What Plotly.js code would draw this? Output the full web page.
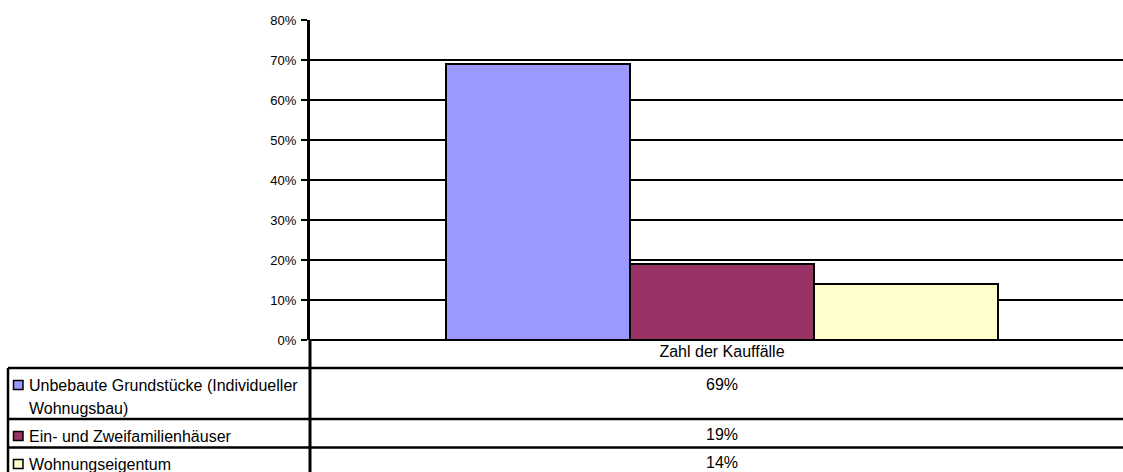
<!DOCTYPE html>
<html>
<head>
<meta charset="utf-8">
<script src="https://cdn.plot.ly/plotly-3.0.1.min.js"></script>
<style>
  html, body { margin: 0; padding: 0; background: #fff; }
  #chart { width: 1123px; height: 472px; }
</style>
</head>
<body>
<div id="chart"></div>
<script>
// Data
const category = 'Zahl der Kauffälle';
const seriesNames = ['Unbebaute Grundstücke (Individueller<br>Wohnugsbau)', 'Ein- und Zweifamilienhäuser', 'Wohnungseigentum'];
const seriesValues = [69, 19, 14];
const seriesColors = ['#9999FF', '#993366', '#FFFFCC'];
const yTicks = [0, 10, 20, 30, 40, 50, 60, 70, 80];

// pixel helpers for the data table under the plot (plot area: x 310..1123, y 20..340)
const W = 1123, H = 472, L = 310, T = 20, B = 340;
const px = v => (v - L) / (W - L);
const py = v => (B - v) / (B - T);

const FONT = 'Liberation Sans, Arial, sans-serif';
const TABLE_SIZE = 16;

// One bar per series, grouped at the same category
const traces = seriesNames.map((name, i) => ({
    type: 'bar',
    x: [0],
    y: [seriesValues[i]],
    name: name,
    marker: { color: seriesColors[i], line: { color: '#000', width: 2 } },
    hoverinfo: 'none'
}));

// Table rows: text y of first line, value y (pixels)
const rowTextY = [385, 436, 464];
const rowValueY = [384, 434, 462];
const lineStep = 23;

const shapes = [
    // table frame
    { type: 'line', xref: 'paper', yref: 'paper', x0: px(8), x1: px(W + 2), y0: py(368), y1: py(368), line: { color: '#000', width: 2.5 } },
    { type: 'line', xref: 'paper', yref: 'paper', x0: px(8), x1: px(W + 2), y0: py(419), y1: py(419), line: { color: '#000', width: 2.5 } },
    { type: 'line', xref: 'paper', yref: 'paper', x0: px(8), x1: px(W + 2), y0: py(447.5), y1: py(447.5), line: { color: '#000', width: 2.5 } },
    { type: 'line', xref: 'paper', yref: 'paper', x0: px(8), x1: px(8), y0: py(368), y1: py(H + 2), line: { color: '#000', width: 2.5 } },
    { type: 'line', xref: 'paper', yref: 'paper', x0: 0, x1: 0, y0: py(340), y1: py(H + 2), line: { color: '#000', width: 3 } }
];

const annotations = [];
seriesNames.forEach((name, i) => {
    // legend key squares
    shapes.push({
        type: 'rect', xref: 'paper', yref: 'paper',
        x0: px(13.5), x1: px(23), y0: py(rowTextY[i] - 4.5), y1: py(rowTextY[i] + 4.5),
        fillcolor: seriesColors[i], line: { color: '#000', width: 1.5 }
    });
    name.split('<br>').forEach((line, k) => {
        annotations.push({
            xref: 'paper', yref: 'paper', x: px(27), y: py(rowTextY[i] + k * lineStep),
            xanchor: 'left', yanchor: 'middle', align: 'left', showarrow: false,
            text: line, font: { family: FONT, size: TABLE_SIZE, color: '#000' }
        });
    });
    annotations.push({
        xref: 'x', yref: 'paper', x: 0, y: py(rowValueY[i]),
        xanchor: 'center', yanchor: 'middle', showarrow: false,
        text: seriesValues[i] + '%', font: { family: FONT, size: TABLE_SIZE, color: '#000' }
    });
});

// x scale: 1 unit = plot width, category centred at pixel 722
const xa = -(722 - L) / (W - L);

const layout = {
    width: W,
    height: H,
    margin: { l: L, r: 0, t: T, b: H - B, pad: 0 },
    paper_bgcolor: '#fff',
    plot_bgcolor: '#fff',
    showlegend: false,
    barmode: 'group',
    bargap: 1 - 552 / 813,
    bargroupgap: 0,
    font: { family: FONT, color: '#000' },
    xaxis: {
        range: [xa, xa + 1],
        tickvals: [0],
        ticktext: [category],
        ticks: '',
        showgrid: false,
        zeroline: false,
        showline: false,
        tickfont: { family: FONT, size: TABLE_SIZE, color: '#000' },
        fixedrange: true
    },
    yaxis: {
        range: [0, 80],
        tickvals: yTicks,
        ticktext: yTicks.map(v => v + '%'),
        ticks: 'outside',
        ticklen: 6,
        tickwidth: 2,
        tickcolor: '#000',
        ticklabelstandoff: 2,
        showgrid: true,
        gridcolor: '#000',
        gridwidth: 2,
        zeroline: true,
        zerolinecolor: '#000',
        zerolinewidth: 2.5,
        showline: true,
        linecolor: '#000',
        linewidth: 3,
        tickfont: { family: FONT, size: 13, color: '#000' },
        fixedrange: true
    },
    shapes: shapes,
    annotations: annotations
};

Plotly.newPlot('chart', traces, layout, { displayModeBar: false, staticPlot: true });
</script>
</body>
</html>
